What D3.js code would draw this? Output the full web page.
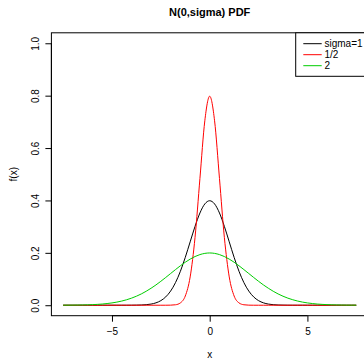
<html>
<head>
  <meta charset="UTF-8">
  <title>N(0,sigma) PDF</title>
  <script src="https://d3js.org/d3.v7.min.js"></script>
  <style>
    body { margin: 0; background: #fff; }
    text { font-family: "Liberation Sans", Arial, sans-serif; }
  </style>
</head>
<body>
<svg id="chart" width="364" height="359"></svg>
<script>
  // x grid and density values
  const xs = [-7.5,-7.25,-7,-6.75,-6.5,-6.25,-6,-5.75,-5.5,-5.25,-5,-4.75,-4.5,-4.25,-4,-3.75,-3.5,-3.25,-3,-2.75,-2.5,-2.25,-2,-1.75,-1.5,-1.25,-1,-0.75,-0.5,-0.25,
              0,
              0.25,0.5,0.75,1,1.25,1.5,1.75,2,2.25,2.5,2.75,3,3.25,3.5,3.75,4,4.25,4.5,4.75,5,5.25,5.5,5.75,6,6.25,6.5,6.75,7,7.25,7.5];

  const sigma1 = [0,0,0,0,0,0,0,0,0,0,0,0,0,0,0.0001,0.0004,0.0009,0.0020,0.0044,0.0091,0.0175,0.0317,0.0540,0.0863,0.1295,0.1826,0.2420,0.3011,0.3521,0.3867,
                  0.3989,
                  0.3867,0.3521,0.3011,0.2420,0.1826,0.1295,0.0863,0.0540,0.0317,0.0175,0.0091,0.0044,0.0020,0.0009,0.0004,0.0001,0,0,0,0,0,0,0,0,0,0,0,0,0,0];

  const sigmaHalf = [0,0,0,0,0,0,0,0,0,0,0,0,0,0,0,0,0,0,0,0,0,0,0.0003,0.0017,0.0089,0.0351,0.1080,0.2591,0.4839,0.7041,
                     0.7979,
                     0.7041,0.4839,0.2591,0.1080,0.0351,0.0089,0.0017,0.0003,0,0,0,0,0,0,0,0,0,0,0,0,0,0,0,0,0,0,0,0,0,0];

  const sigma2 = [0.0002,0.0003,0.0004,0.0007,0.0010,0.0015,0.0022,0.0032,0.0045,0.0064,0.0088,0.0119,0.0159,0.0209,0.0270,0.0344,0.0431,0.0533,0.0648,0.0775,0.0913,0.1059,0.1210,0.1360,0.1506,0.1641,0.1760,0.1859,0.1933,0.1979,
                  0.1995,
                  0.1979,0.1933,0.1859,0.1760,0.1641,0.1506,0.1360,0.1210,0.1059,0.0913,0.0775,0.0648,0.0533,0.0431,0.0344,0.0270,0.0209,0.0159,0.0119,0.0088,0.0064,0.0045,0.0032,0.0022,0.0015,0.0010,0.0007,0.0004,0.0003,0.0002];

  const seriesNames = ["sigma=1", "1/2", "2"];
  const seriesColors = ["#000000", "#FF0000", "#00CD00"];
  const xTicks = [-5, 0, 5];
  const yTicks = [0, 0.2, 0.4, 0.6, 0.8, 1.0];

  const svg = d3.select("#chart");

  const x = d3.scaleLinear([-8.1, 8.1], [51.4, 368]);
  const y = d3.scaleLinear([-0.04, 1.04], [315.7, 32.8]);

  // title
  svg.append("text")
     .attr("x", x(0)).attr("y", 16)
     .attr("text-anchor", "middle")
     .attr("font-size", "11px").attr("font-weight", "bold")
     .text("N(0,sigma) PDF");

  // curves
  const line = d3.line()
                 .x((d, i) => x(xs[i]))
                 .y(d => y(d))
                 .curve(d3.curveMonotoneX);

  [sigma1, sigmaHalf, sigma2].forEach((vals, k) => {
      svg.append("path")
         .attr("d", line(vals))
         .attr("fill", "none")
         .attr("stroke", seriesColors[k])
         .attr("stroke-width", 1);
  });

  // plot box
  svg.append("rect")
     .attr("x", x.range()[0]).attr("y", y.range()[1])
     .attr("width", x.range()[1] - x.range()[0])
     .attr("height", y.range()[0] - y.range()[1])
     .attr("fill", "none").attr("stroke", "#000").attr("stroke-width", 1);

  // x axis
  const xAxis = svg.append("g")
     .attr("transform", `translate(0,${y.range()[0]})`)
     .call(d3.axisBottom(x).tickValues(xTicks).tickSize(6).tickPadding(6)
            .tickFormat(d => d < 0 ? "\u2212" + Math.abs(d) : d));
  xAxis.select(".domain").attr("d", `M${x(-5)},0H${x(5)}`);
  xAxis.selectAll("text").attr("font-size", "10px").attr("font-family", "Liberation Sans, Arial, sans-serif").attr("fill", "#000");

  // y axis
  const yAxis = svg.append("g")
     .attr("transform", `translate(${x.range()[0]},0)`)
     .call(d3.axisLeft(y).tickValues(yTicks).tickSize(6).tickFormat(d3.format(".1f")));
  yAxis.select(".domain").attr("d", `M0,${y(0)}V${y(1)}`);
  yAxis.selectAll("text")
       .attr("font-size", "10px").attr("font-family", "Liberation Sans, Arial, sans-serif").attr("fill", "#000")
       .attr("x", null).attr("dy", null)
       .attr("text-anchor", "middle")
       .attr("transform", "translate(-16,0) rotate(-90)")
       .attr("dy", "0.35em");

  // axis labels
  svg.append("text")
     .attr("x", x(0)).attr("y", 358)
     .attr("text-anchor", "middle").attr("font-size", "10px")
     .text("x");
  svg.append("text")
     .attr("transform", `translate(17,${y(0.5)}) rotate(-90)`)
     .attr("text-anchor", "middle").attr("font-size", "10px")
     .text("f(x)");

  // legend
  const lg = svg.append("g");
  lg.append("rect")
    .attr("x", 295.7).attr("y", y.range()[1])
    .attr("width", x.range()[1] - 295.7).attr("height", 43.5)
    .attr("fill", "#fff").attr("stroke", "#000").attr("stroke-width", 1);
  seriesNames.forEach((name, k) => {
      const yy = 43.7 + k * 11;
      lg.append("line")
        .attr("x1", 303.3).attr("x2", 321.7).attr("y1", yy).attr("y2", yy)
        .attr("stroke", seriesColors[k]).attr("stroke-width", 1);
      lg.append("text")
        .attr("x", 324.5).attr("y", yy).attr("dy", "0.35em")
        .attr("font-size", "10px")
        .text(name);
  });
</script>
</body>
</html>
